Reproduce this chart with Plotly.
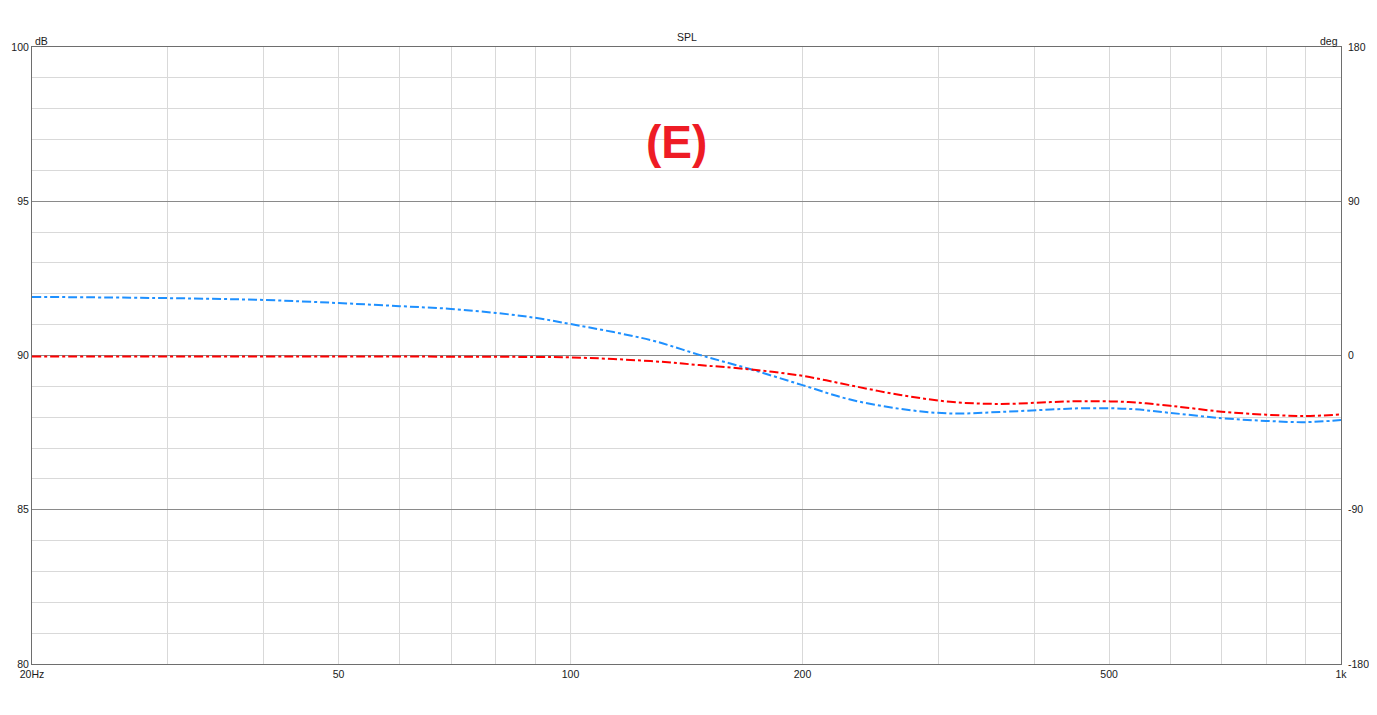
import plotly.graph_objects as go

# Data
freq_hz = [20, 30, 40, 50, 60, 70, 80, 90, 100, 127, 147, 171, 200, 230, 268, 311, 361, 420, 463, 530, 600, 700, 800, 900, 1000]
red_db = [89.97, 89.97, 89.97, 89.97, 89.97, 89.96, 89.96, 89.95, 89.94, 89.82, 89.69, 89.55, 89.34, 89.04, 88.72, 88.50, 88.43, 88.49, 88.52, 88.49, 88.37, 88.18, 88.08, 88.04, 88.09]
blue_db = [91.90, 91.86, 91.80, 91.70, 91.60, 91.51, 91.38, 91.22, 91.02, 90.50, 90.02, 89.56, 89.04, 88.58, 88.27, 88.12, 88.17, 88.25, 88.29, 88.27, 88.14, 87.97, 87.88, 87.84, 87.91]

x_grid = [20, 30, 40, 50, 60, 70, 80, 90, 100, 200, 300, 400, 500, 600, 700, 800, 900, 1000]
x_labels = {20: "20Hz", 50: "50", 100: "100", 200: "200", 500: "500", 1000: "1k"}
y_grid = list(range(80, 101))
deg_ticks = [-180, -90, 0, 90, 180]

FONT = "Liberation Sans"
TXT = "#1a1a1a"
TS = 10.5

fig = go.Figure()
fig.add_trace(go.Scatter(x=freq_hz, y=blue_db, mode="lines", line=dict(color="#1e90ff", width=2, dash="dashdot", shape="spline"), showlegend=False))
fig.add_trace(go.Scatter(x=freq_hz, y=red_db, mode="lines", line=dict(color="#ff0000", width=2, dash="dashdot", shape="spline"), showlegend=False))
# invisible trace to activate right axis
fig.add_trace(go.Scatter(x=[20], y=[0], yaxis="y2", mode="markers", marker=dict(opacity=0), showlegend=False, hoverinfo="skip"))

fig.update_layout(
    width=1361, height=699,
    margin=dict(l=24, r=28, t=39, b=43, autoexpand=False),
    paper_bgcolor="white", plot_bgcolor="white",
    font=dict(family=FONT, size=TS, color=TXT),
    xaxis=dict(
        type="log", range=[1.30103, 3.0], automargin=False,
        tickvals=x_grid, ticktext=[x_labels.get(v, "") for v in x_grid],
        showgrid=True, gridcolor="#d9d9d9", gridwidth=1,
        showline=True, linecolor="#6e6e6e", linewidth=1, mirror=True,
        ticks="", zeroline=False, tickfont=dict(size=TS, color=TXT),
    ),
    yaxis=dict(
        range=[80, 100], tickvals=y_grid, automargin=False,
        ticktext=[str(v) if v % 5 == 0 else "" for v in y_grid],
        showgrid=True, gridcolor="#d9d9d9", gridwidth=1,
        showline=True, linecolor="#6e6e6e", linewidth=1, mirror=True,
        ticks="", zeroline=False, tickfont=dict(size=TS, color=TXT),
    ),
    yaxis2=dict(
        overlaying="y", side="right", range=[-180, 180], tickvals=deg_ticks,
        ticktext=[str(v) for v in deg_ticks], automargin=False,
        showgrid=True, gridcolor="#8a8a8a", gridwidth=1, zeroline=False,
        ticks="", ticklabelstandoff=6, tickfont=dict(size=TS, color=TXT), showline=False,
    ),
    shapes=[dict(type="line", xref="x", yref="paper", x0=100, x1=100, y0=0, y1=1,
                 line=dict(color="#8a8a8a", width=1), layer="below")],
    annotations=[
        dict(text="SPL", xref="paper", yref="paper", x=0.5, y=1.0, yshift=10, showarrow=False,
             font=dict(size=TS, color=TXT), xanchor="center", yanchor="middle"),
        dict(text="dB", xref="paper", yref="paper", x=0.0, y=1.0, xshift=1, yshift=6, showarrow=False,
             font=dict(size=TS, color=TXT), xanchor="left", yanchor="middle"),
        dict(text="deg", xref="paper", yref="paper", x=1.0, y=1.0, xshift=-1, yshift=6, showarrow=False,
             font=dict(size=TS, color=TXT), xanchor="right", yanchor="middle"),
        dict(text="<b>(E)</b>", xref="paper", yref="paper", x=(676 - 32) / 1309, y=1 - (142 - 47) / 617,
             showarrow=False, font=dict(size=46, color="#ee1c25", family=FONT),
             xanchor="center", yanchor="middle"),
    ],
)

fig.write_html("out.html")
